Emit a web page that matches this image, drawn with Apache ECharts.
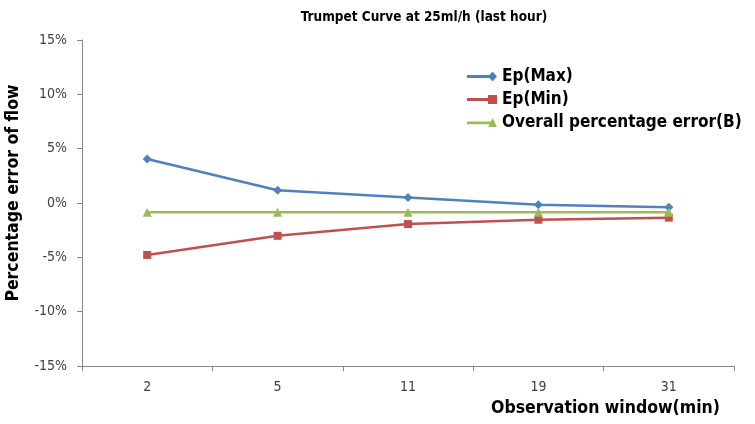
<!DOCTYPE html>
<html><head><meta charset="utf-8">
<script src="https://cdn.jsdelivr.net/npm/echarts@6/dist/echarts.min.js"></script>
<style>html,body{margin:0;padding:0;background:#fff}#c{width:755px;height:424px}</style>
</head><body><div id="c"></div>
<script>
var categories = ['2', '5', '11', '19', '31'];
var epMax = [4.05, 1.17, 0.5, -0.15, -0.4];
var epMin = [-4.78, -3.02, -1.94, -1.54, -1.35];
var overallB = [-0.86, -0.86, -0.86, -0.86, -0.86];
var seriesNames = ['Ep(Max)', 'Ep(Min)', 'Overall percentage error(B)'];
var FONT = "'Liberation Sans Narrow', 'DejaVu Sans Condensed', sans-serif";

var iconDiamond = 'path://M0,3.6 L24,3.6 L24,6.4 L0,6.4 Z M26,0 L30.5,5 L26,10 L21.5,5 Z';
var iconSquare = 'path://M0,3.6 L24,3.6 L24,6.4 L0,6.4 Z M21,0.5 L30,0.5 L30,9.5 L21,9.5 Z';
var iconTriangle = 'path://M0,3.6 L24,3.6 L24,6.4 L0,6.4 Z M26,0 L30.5,9 L21.5,9 Z';

var chart = echarts.init(document.getElementById('c'));
chart.setOption({
  animation: false,
  textStyle: { fontFamily: FONT },
  title: {
    text: 'Trumpet Curve at 25ml/h (last hour)',
    left: 419, top: 5, textAlign: 'center',
    textStyle: { fontFamily: FONT, fontWeight: 'bold', fontSize: 13.5, color: '#000' }
  },
  legend: {
    orient: 'vertical', left: 462, top: 63, itemGap: 6,
    itemWidth: 30, itemHeight: 10,
    textStyle: { fontFamily: FONT, fontWeight: 'bold', fontSize: 17, color: '#000' },
    data: [
      { name: seriesNames[0], icon: iconDiamond },
      { name: seriesNames[1], icon: iconSquare },
      { name: seriesNames[2], icon: iconTriangle }
    ]
  },
  grid: { left: 82, right: 21, top: 40, bottom: 58, containLabel: false, outerBoundsMode: 'none' },
  xAxis: {
    type: 'category', data: categories, boundaryGap: true,
    name: 'Observation window(min)', nameLocation: 'end',
    nameGap: 0,
    nameTextStyle: { fontFamily: FONT, fontWeight: 'bold', fontSize: 17.5, color: '#000',
      align: 'right', verticalAlign: 'top', padding: [33, 14, 0, 0] },
    axisLine: { onZero: false, lineStyle: { color: '#868686' } },
    axisTick: { show: true, length: 5, inside: false, lineStyle: { color: '#868686' } },
    axisLabel: { fontFamily: FONT, fontSize: 14, color: '#404040', margin: 14 },
    splitLine: { show: false }
  },
  yAxis: {
    type: 'value', min: -15, max: 15, interval: 5,
    name: 'Percentage error of flow', nameLocation: 'middle', nameGap: 60,
    nameTextStyle: { fontFamily: FONT, fontWeight: 'bold', fontSize: 17.5, color: '#000',
      padding: [0, 0, 0, 20] },
    axisLine: { show: true, lineStyle: { color: '#868686' } },
    axisTick: { show: true, length: 5, lineStyle: { color: '#868686' } },
    axisLabel: { fontFamily: FONT, fontSize: 14, color: '#404040', margin: 15,
      formatter: function (v) { return v + '%'; } },
    splitLine: { show: false }
  },
  series: [
    { name: seriesNames[0], type: 'line', data: epMax, symbol: 'diamond', symbolSize: 9,
      color: '#4F81BD', lineStyle: { width: 2.5, color: '#4F81BD' }, itemStyle: { color: '#4F81BD' } },
    { name: seriesNames[1], type: 'line', data: epMin, symbol: 'rect', symbolSize: 8,
      color: '#C0504D', lineStyle: { width: 2.5, color: '#C0504D' }, itemStyle: { color: '#C0504D' } },
    { name: seriesNames[2], type: 'line', data: overallB, symbol: 'triangle', symbolSize: 9,
      color: '#9BBB59', lineStyle: { width: 2.5, color: '#9BBB59' }, itemStyle: { color: '#9BBB59' } }
  ]
});
</script></body></html>
